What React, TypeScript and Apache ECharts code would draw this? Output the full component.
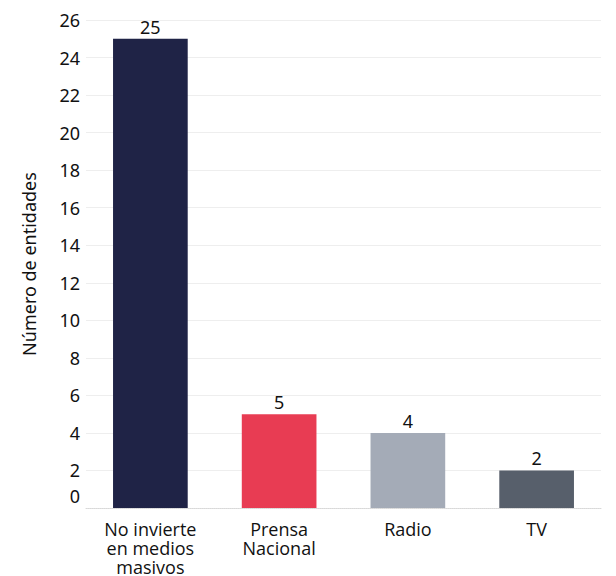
import React, { useEffect, useRef } from "react";
import * as echarts from "echarts";

const categories = ["No invierte\nen medios\nmasivos", "Prensa\nNacional", "Radio", "TV"];
const values = [25, 5, 4, 2];
const colors = ["#1f2346", "#e83c53", "#a4abb7", "#575f6b"];
const yTicks = { min: 0, max: 26, interval: 2 };
const yName = "Número de entidades";

export default function App() {
  const ref = useRef<HTMLDivElement>(null);
  useEffect(() => {
    const chart = echarts.init(ref.current!, null, { renderer: "svg" });
    chart.setOption({
      animation: false,
      grid: { left: 86, right: 15, top: 20, bottom: 67 },
      xAxis: {
        type: "category",
        data: categories,
        axisLine: { lineStyle: { color: "#d8d8d8", type: "dotted", width: 1 } },
        axisTick: { show: false },
        axisLabel: {
          color: "#111",
          fontSize: 18,
          fontFamily: "Open Sans",
          lineHeight: 19,
          margin: 11,
          interval: 0,
        },
      },
      yAxis: {
        type: "value",
        min: yTicks.min,
        max: yTicks.max,
        interval: yTicks.interval,
        name: yName,
        nameLocation: "middle",
        nameGap: 48,
        nameTextStyle: { color: "#111", fontSize: 18, fontFamily: "Noto Sans" },
        axisLine: { show: false },
        axisTick: { show: false },
        splitLine: { lineStyle: { color: "#eeeeee", width: 1 } },
        axisLabel: {
          color: "#111",
          fontSize: 18,
          fontFamily: "Noto Sans",
          margin: 6,
          formatter: (v: number) => (v === 0 ? "{z|0}" : String(v)),
          rich: { z: { fontSize: 18, fontFamily: "Noto Sans", color: "#111", padding: [0, 0, 24, 0] } },
        },
      },
      series: [
        {
          type: "bar",
          barWidth: "58%",
          data: values.map((v, i) => ({ value: v, itemStyle: { color: colors[i] } })),
          label: {
            show: true,
            position: "top",
            distance: 3,
            color: "#111",
            fontSize: 18,
            fontFamily: "Noto Sans",
          },
        },
      ],
    });
    return () => chart.dispose();
  }, []);
  return (
    <div
      ref={ref}
      style={{ position: "absolute", left: 0, top: 0, width: 616, height: 576 }}
    />
  );
}
